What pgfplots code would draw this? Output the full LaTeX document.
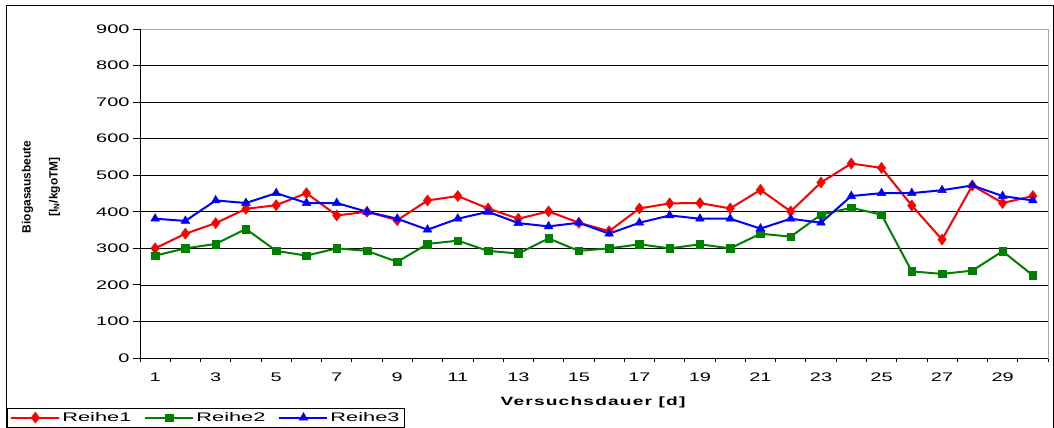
\documentclass[border=0pt]{standalone}
\usepackage{fontspec}
\setmainfont{Liberation Sans}
\newfontfamily\widefont{Liberation Sans}[FakeStretch=1.6]
\newfontfamily\legfont{Liberation Sans}[FakeStretch=1.75]
\newfontfamily\titlefont{Liberation Sans}[FakeStretch=1.6,LetterSpace=10]
\usepackage{pgfplots}
\pgfplotsset{compat=1.18}
\usepackage{pgfplotstable}
\definecolor{exred}{RGB}{255,0,0}
\definecolor{exgreen}{RGB}{0,128,0}
\definecolor{exblue}{RGB}{0,0,255}
\pgfplotstableread{
x R1 R2 R3
1 300 280 381
2 340 300 375
3 369 312 431
4 408 353 424
5 418 293 451
6 451 280 424
7 390 300 424
8 400 293 400
9 377 263 381
10 431 312 351
11 443 321 381
12 409 293 400
13 381 286 369
14 401 327 360
15 370 293 370
16 347 300 340
17 409 311 370
18 423 300 390
19 424 311 381
20 409 300 381
21 460 340 354
22 401 332 381
23 480 392 370
24 532 411 443
25 520 392 451
26 417 237 451
27 324 230 459
28 472 239 472
29 424 292 443
30 443 226 431
}\datatable
\begin{document}
\begin{tikzpicture}
\begin{axis}[
  at={(0,0)}, anchor=south west,
  scale only axis, width=908bp, height=329bp,
  xmin=0.5, xmax=30.5, ymin=0, ymax=900,
  xtick={1,3,...,29},
  minor xtick={0.5,1.5,...,30.5},
  ytick={0,100,...,900},
  tick pos=left, tick align=outside,
  major tick length=7bp, minor tick length=4bp,
  major x tick style={draw=none},
  tick style={black, line width=0.8bp},
  axis line style={gray!70, line width=0.8bp},
  ymajorgrids,
  grid style={black, line width=0.7bp},
  /pgf/number format/assume math mode=true,
  yticklabel style={font=\widefont\fontsize{12.5}{14}\selectfont},
  xticklabel style={font=\widefont\fontsize{12.5}{14}\selectfont, yshift=-4bp},
  xlabel={Versuchsdauer [d]},
  xlabel style={font=\titlefont\bfseries\fontsize{12}{14}\selectfont, at={(axis description cs:0.499,-0.1337)}, anchor=center},
  ylabel={Biogasausbeute\\[13bp]{[}l\textsubscript{N}/kgoTM{]}},
  ylabel style={font=\bfseries\fontsize{12}{14}\selectfont, align=center, at={(axis description cs:-0.109,0.52)}, anchor=center},
  legend columns=3,
  legend style={at={(axis description cs:-0.1465,-0.152)}, anchor=north west,
    draw=black, line width=0.8bp, inner xsep=3bp, inner ysep=2bp,
    font=\legfont\fontsize{12.5}{14}\selectfont,
    /tikz/every even column/.append style={column sep=11bp}},
  legend image code/.code={\draw[mark repeat=2,mark phase=2] plot coordinates {(0bp,0bp) (24bp,0bp) (48bp,0bp)};},
  every axis plot/.append style={line width=2bp},
  clip=false,
  after end axis/.code={
    \draw[gray!70, line width=0.8bp] (rel axis cs:0,1) -- (rel axis cs:1,1) -- (rel axis cs:1,0);
    \draw[black, line width=0.9bp] (rel axis cs:0,1) -- (rel axis cs:0,0) -- (rel axis cs:1,0);
  },
]
\addplot[color=exred, mark=diamond*, mark size=5.5bp, mark options={solid, line width=0.5bp}] table[x=x, y=R1] {\datatable};
\addlegendentry{Reihe1}
\addplot[color=exgreen, mark=square*, mark size=3.8bp, mark options={solid, line width=0.5bp}] table[x=x, y=R2] {\datatable};
\addlegendentry{Reihe2}
\addplot[color=exblue, mark=triangle*, mark size=5bp, mark options={solid, line width=0.5bp}] table[x=x, y=R3] {\datatable};
\addlegendentry{Reihe3}
\end{axis}
\draw[black, line width=1bp] (-133bp,-90bp) rectangle (913bp,352bp);
\pgfresetboundingbox
\path (-140bp,-70bp) rectangle (914bp,358bp);
\end{tikzpicture}
\end{document}
